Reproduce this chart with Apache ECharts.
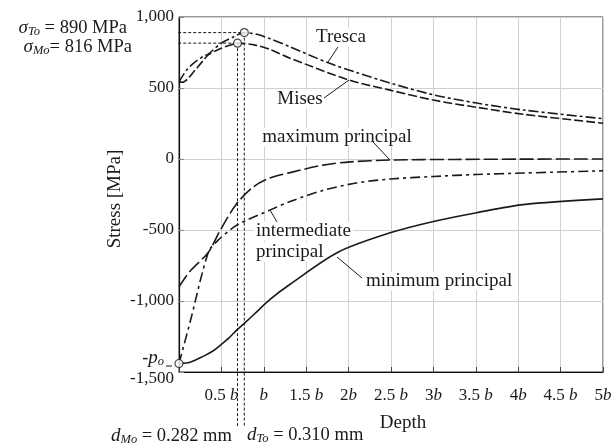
<!DOCTYPE html>
<html>
<head>
<meta charset="utf-8">
<script src="https://cdn.jsdelivr.net/npm/echarts@6/dist/echarts.min.js"></script>
<style>
  html, body { margin: 0; padding: 0; background: #fff; }
  #chart { width: 615px; height: 448px; }
</style>
</head>
<body>
<div id="chart"></div>
<script>
const SERIF = '"Liberation Serif", "Times New Roman", serif';
const INK = '#1a1a1a';

// Depth in multiples of the contact half-width b, stress in MPa
const depthTresca  = [0, 0.09, 0.19, 0.29, 0.345, 0.49, 0.64, 0.77, 0.92, 1.07, 1.31, 1.76, 2.09, 2.49, 3.0, 3.51, 4.06, 5];
const stressTresca = [543, 626, 684, 724, 738, 813, 859, 890, 878, 848, 790, 677, 610, 535, 452, 394, 345, 284];

const depthMises  = [0, 0.04, 0.1, 0.19, 0.29, 0.345, 0.49, 0.6, 0.69, 0.9, 1.07, 1.31, 2.01, 2.49, 3.0, 3.51, 4.06, 5];
const stressMises = [543, 540, 563, 626, 696, 733, 778, 801, 816, 802, 772, 710, 555, 485, 415, 364, 315, 252];

const depthMaxP  = [0, 0.13, 0.345, 0.49, 0.68, 0.88, 1.07, 1.31, 1.7, 2.02, 2.5, 3.25, 4, 5];
const stressMaxP = [-900, -790, -658, -497, -315, -195, -134, -96, -43, -20, -7, -3, -1, 0];

const depthIntP  = [0, 0.13, 0.345, 0.45, 0.68, 1.07, 1.31, 1.7, 2.09, 2.49, 3.0, 3.51, 4.06, 5];
const stressIntP = [-1440, -1150, -658, -578, -467, -360, -300, -221, -169, -141, -123, -109, -99, -83];

const depthMinP  = [0, 0.13, 0.29, 0.4, 0.49, 0.59, 0.68, 0.78, 0.88, 1.07, 1.31, 1.88, 2.49, 3.0, 3.51, 4.06, 5];
const stressMinP = [-1440, -1431, -1388, -1352, -1310, -1260, -1205, -1152, -1097, -990, -882, -655, -520, -440, -378, -321, -281];

// Marked points: Tresca peak, Mises peak, surface pressure -p0
const markerDepth  = [0.77, 0.69, 0];
const markerStress = [890, 816, -1440];

// Axis tick labels
const depthTickLabels  = ['', '0.5 b', 'b', '1.5 b', '2b', '2.5 b', '3b', '3.5 b', '4b', '4.5 b', '5b'];
const stressTickValues = [-1500, -1000, -500, 0, 500, 1000];
const stressTickLabels = ['-1,500', '-1,000', '-500', '0', '500', '1,000'];

// extent of the dashed guide lines (outside the plot box)
const guideLeftDepth = -0.54;
const guideBottomStress = -1880;

const zip = (xs, ys) => xs.map((x, i) => [x, ys[i]]);

const chart = echarts.init(document.getElementById('chart'), null, { renderer: 'canvas' });

// text runs with italic letters and subscripts
const ctx = document.createElement('canvas').getContext('2d');
function fontOf(p) { return (p.i ? 'italic ' : '') + p.s + 'px ' + SERIF; }
function widthOf(p) { ctx.font = fontOf(p); return ctx.measureText(p.t).width; }
function runs(parts, x, y, align) {
  const total = parts.reduce((s, p) => s + widthOf(p), 0);
  let cx = align === 'right' ? x - total : align === 'center' ? x - total / 2 : x;
  return parts.map(p => {
    const el = {
      type: 'text', x: cx, y: y + (p.dy || 0), silent: true,
      style: { text: p.t, font: fontOf(p), fill: INK, textAlign: 'left', textVerticalAlign: 'middle' }
    };
    cx += widthOf(p);
    return el;
  });
}
// curve labels sit on a white box so the grid does not run through them
function label(text, x, y, size, align, boxed) {
  const style = { text, font: size + 'px ' + SERIF, fill: INK, textAlign: align || 'center', textVerticalAlign: 'middle' };
  if (boxed) { style.backgroundColor = '#fff'; style.padding = [0, 2, 0, 2]; }
  return { type: 'text', x, y, z: 1, silent: true, style };
}
function leader(x1, y1, x2, y2) {
  return { type: 'line', z: 2, silent: true, shape: { x1, y1, x2, y2 }, style: { stroke: INK, lineWidth: 1 } };
}

const curve = (name, xs, ys, dash) => ({
  name, type: 'line', data: zip(xs, ys), showSymbol: false, smooth: 0.3,
  lineStyle: { color: INK, width: 1.6, type: dash }, z: 3, silent: true
});

const guide = (pts) => ({
  type: 'line', data: pts, showSymbol: false, clip: false, silent: true, z: 2,
  lineStyle: { color: INK, width: 1, type: [3, 2] }
});

const option = {
  animation: false,
  textStyle: { fontFamily: SERIF },
  grid: { left: 179, right: 12, top: 17, bottom: 76, show: true, borderColor: '#333', borderWidth: 1 },
  xAxis: {
    type: 'value', min: 0, max: 5, interval: 0.5,
    axisLine: { onZero: false, lineStyle: { color: '#111', width: 1.2 } },
    axisTick: { inside: true, length: 5, lineStyle: { color: '#444' } },
    splitLine: { lineStyle: { color: '#d0d0d0', width: 1 } },
    axisLabel: {
      margin: 15, color: INK,
      formatter: v => {
        const t = depthTickLabels[Math.round(v / 0.5)] || '';
        if (!t) return '';
        const num = t.slice(0, -1);
        return (num ? '{n|' + num + '}' : '') + '{i|b}';
      },
      rich: {
        n: { fontSize: 17, fontFamily: SERIF, color: INK },
        i: { fontSize: 17, fontFamily: SERIF, fontStyle: 'italic', color: INK }
      }
    }
  },
  yAxis: {
    type: 'value', min: -1500, max: 1000, interval: 500,
    axisLine: { show: true, onZero: false, lineStyle: { color: '#111', width: 1.2 } },
    axisTick: { show: true, inside: true, length: 5, lineStyle: { color: '#888' } },
    splitLine: { lineStyle: { color: '#d0d0d0', width: 1 } },
    axisLabel: {
      margin: 5, color: INK, fontSize: 17, fontFamily: SERIF,
      formatter: v => {
        const k = stressTickValues.indexOf(v);
        const t = k >= 0 ? stressTickLabels[k] : '';
        return v === -1500 ? '{low|' + t + '}' : t;
      },
      rich: { low: { fontSize: 17, fontFamily: SERIF, color: INK, padding: [14, 0, 0, 0] } }
    }
  },
  series: [
    curve('Tresca', depthTresca, stressTresca, [10, 3, 3, 3]),
    curve('Mises', depthMises, stressMises, [9, 3]),
    curve('maximum principal', depthMaxP, stressMaxP, [14, 4]),
    curve('intermediate principal', depthIntP, stressIntP, [10, 4, 3, 4]),
    curve('minimum principal', depthMinP, stressMinP, 'solid'),
    // dashed guides from the two peaks to the annotations
    guide([[guideLeftDepth, markerStress[0]], [markerDepth[0], markerStress[0]]]),
    guide([[guideLeftDepth, markerStress[1]], [markerDepth[1], markerStress[1]]]),
    guide([[markerDepth[0], markerStress[0]], [markerDepth[0], guideBottomStress]]),
    guide([[markerDepth[1], markerStress[1]], [markerDepth[1], guideBottomStress]]),
    {
      type: 'scatter', data: zip(markerDepth, markerStress), symbol: 'circle', symbolSize: 8,
      clip: false, silent: true, z: 10,
      itemStyle: { color: '#fff', borderColor: INK, borderWidth: 1.2 }
    }
  ],
  graphic: [
    ...runs([{ t: 'σ', s: 19, i: true }, { t: 'To', s: 12.5, i: true, dy: 4 }, { t: ' = 890 MPa', s: 18.5 }], 127, 28, 'right'),
    ...runs([{ t: 'σ', s: 19, i: true }, { t: 'Mo', s: 12.5, i: true, dy: 4 }, { t: '= 816 MPa', s: 18.5 }], 132, 47, 'right'),
    ...runs([{ t: 'd', s: 19, i: true }, { t: 'Mo', s: 12.5, i: true, dy: 4 }, { t: ' = 0.282 mm', s: 18.5 }], 111, 436, 'left'),
    ...runs([{ t: 'd', s: 19, i: true }, { t: 'To', s: 12.5, i: true, dy: 4 }, { t: ' = 0.310 mm', s: 18.5 }], 247, 435, 'left'),
    ...runs([{ t: '-', s: 18 }, { t: 'p', s: 19, i: true }, { t: 'o', s: 12.5, i: true, dy: 4 }], 164, 358, 'right'),
    { type: 'line', silent: true, shape: { x1: 166, y1: 366, x2: 172, y2: 366 }, style: { stroke: INK, lineWidth: 1 } },
    label('Tresca', 341, 37, 19, 'center', true),
    label('Mises', 300, 99, 19, 'center', true),
    label('maximum principal', 337, 137, 19, 'center', true),
    label('intermediate', 254, 231, 19, 'left', true),
    label('principal', 254, 252, 19, 'left', true),
    label('minimum principal', 364, 281, 19, 'left', true),
    label('Depth', 403, 423, 19),
    { type: 'text', x: 115, y: 199, rotation: Math.PI / 2, silent: true,
      style: { text: 'Stress [MPa]', font: '19px ' + SERIF, fill: INK, textAlign: 'center', textVerticalAlign: 'middle' } },
    leader(338, 47, 328, 62),
    leader(324, 98, 349, 80),
    leader(373, 142, 390, 160),
    leader(277, 222, 270, 210),
    leader(362, 278, 337, 257)
  ]
};

chart.setOption(option);
</script>
</body>
</html>
